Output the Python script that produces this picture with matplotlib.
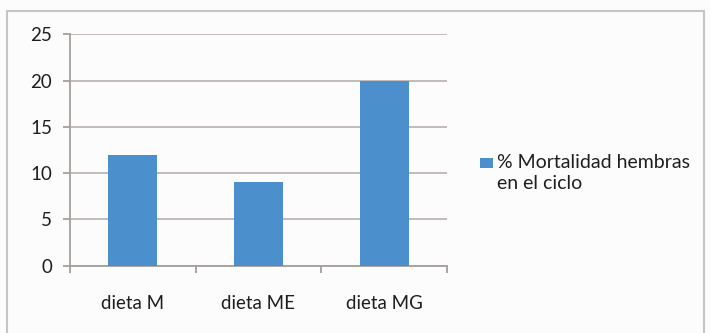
import matplotlib
matplotlib.use('Agg')
import matplotlib.pyplot as plt
from matplotlib.patches import Rectangle

# datos del grafico
dietas = ['dieta M', 'dieta ME', 'dieta MG']
mortalidad = [12, 9, 20]
serie = '% Mortalidad hembras\nen el ciclo'
yticks = [0, 5, 10, 15, 20, 25]

color_barra = '#4b8fcd'
color_eje = '#a49e9c'
color_texto = '#1e1e1e'

plt.rcParams['font.family'] = ['Lato', 'DejaVu Sans']

W, H = 710, 333
fig = plt.figure(figsize=(W / 100, H / 100), dpi=100)
fig.patch.set_facecolor('#fcfcfc')

# marco exterior del grafico
fig.patches.append(Rectangle((7 / W, -0.05), 697 / W, 1 - 11 / H + 0.05,
                             transform=fig.transFigure, fill=False,
                             edgecolor='#c9c5c3', linewidth=1.5))

ax = fig.add_axes([70 / W, 1 - 265.7 / H, 377 / W, 231.4 / H])
ax.set_facecolor('#fcfcfc')

x = list(range(len(dietas)))
ax.bar(x, mortalidad, width=0.39, color=color_barra, zorder=3)

ax.set_xlim(-0.5, len(dietas) - 0.5)
ax.set_ylim(0, 25)
ax.set_yticks(yticks)
ax.yaxis.grid(True, color='#bdb6b3', linewidth=1.3, zorder=0)

# marcas del eje x entre categorias, etiquetas centradas
ax.set_xticks([i - 0.5 for i in range(len(dietas) + 1)])
ax.set_xticklabels([])
ax.set_xticks(x, minor=True)
ax.set_xticklabels(dietas, minor=True, fontsize=13.5, color=color_texto)
ax.tick_params(axis='x', which='minor', length=0, pad=21)
ax.tick_params(axis='x', which='major', length=5, color=color_eje, width=1.3)
ax.tick_params(axis='y', length=5, color=color_eje, width=1.3,
               labelsize=13.5, labelcolor=color_texto, pad=8)

for s in ['top', 'right']:
    ax.spines[s].set_visible(False)
for s in ['left', 'bottom']:
    ax.spines[s].set_color(color_eje)
    ax.spines[s].set_linewidth(1.3)

# leyenda: cuadro de color alineado con la primera linea
fig.patches.append(Rectangle((480 / W, 1 - 168 / H), 13 / W, 10 / H,
                             transform=fig.transFigure, facecolor=color_barra,
                             edgecolor='none'))
fig.text(497 / W, 1 - 154 / H, serie, fontsize=14, color=color_texto,
         va='top', ha='left', linespacing=1.3)

fig.savefig('out.png', dpi=100, facecolor=fig.get_facecolor())
